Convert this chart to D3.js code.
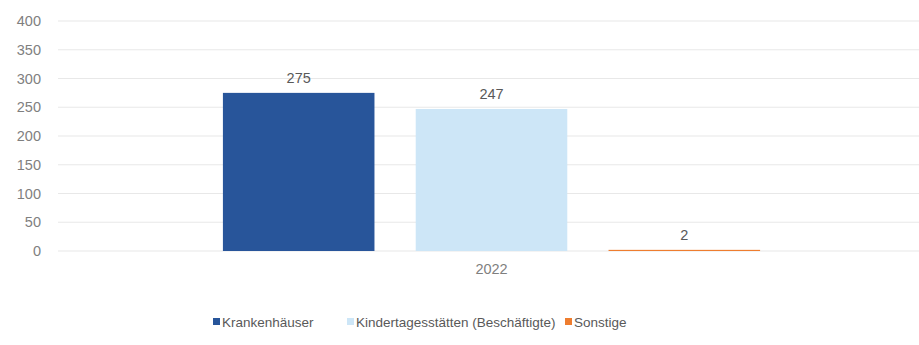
<!DOCTYPE html>
<html>
<head>
<meta charset="utf-8">
<script src="https://cdn.jsdelivr.net/npm/d3@7"></script>
<style>
  html, body { margin: 0; padding: 0; background: #fff; }
  svg text { font-family: "Liberation Sans", Arial, sans-serif; }
</style>
</head>
<body>
<svg id="chart" width="919" height="345"></svg>
<script>
// Data
const years = ["2022"];
const seriesNames = ["Krankenhäuser", "Kindertagesstätten (Beschäftigte)", "Sonstige"];
const seriesValues = [275, 247, 2];
const seriesColors = ["#28559a", "#cde6f7", "#ee7d2f"];
const yTicks = [0, 50, 100, 150, 200, 250, 300, 350, 400];

const svg = d3.select("#chart");
const margin = { left: 58, right: -6, top: 21, bottom: 94 };
const W = 919, H = 345;

const y = d3.scaleLinear().domain([0, 400]).range([H - margin.bottom, margin.top]);

const x0 = d3.scaleBand().domain(years)
  .range([margin.left, W - margin.right])
  .paddingInner(0).paddingOuter(0.307);

const x1 = d3.scaleBand().domain(seriesNames)
  .range([0, x0.bandwidth()])
  .paddingInner(0.214).paddingOuter(0);

// Gridlines
svg.append("g")
  .selectAll("line").data(yTicks).join("line")
  .attr("x1", margin.left).attr("x2", W)
  .attr("y1", d => y(d)).attr("y2", d => y(d))
  .attr("stroke", "#e8e8e8").attr("stroke-width", 1.2);

// Y axis labels
const yAxis = d3.axisLeft(y).tickValues(yTicks).tickSize(0).tickPadding(0);
const ya = svg.append("g").attr("transform", `translate(${margin.left - 17},0)`).call(yAxis);
ya.select(".domain").remove();
ya.selectAll("text")
  .attr("fill", "#7f7f7f").attr("font-size", 14.5)
  .style("font-family", "'Liberation Sans', Arial, sans-serif");

// Bars
const group = svg.append("g").selectAll("g").data(years).join("g")
  .attr("transform", d => `translate(${x0(d)},0)`);

const rows = seriesNames.map((n, i) => ({ name: n, value: seriesValues[i], color: seriesColors[i] }));

group.selectAll("rect").data(rows).join("rect")
  .attr("x", d => x1(d.name))
  .attr("width", x1.bandwidth())
  .attr("y", d => y(d.value))
  .attr("height", d => y(0) - y(d.value))
  .attr("fill", d => d.color);

// Value labels
group.selectAll("text.val").data(rows).join("text")
  .attr("class", "val")
  .attr("x", d => x1(d.name) + x1.bandwidth() / 2)
  .attr("y", d => y(d.value) - 10)
  .attr("text-anchor", "middle")
  .attr("fill", "#595959")
  .attr("font-size", 14.5)
  .text(d => d.value);

// X axis category label
const xAxis = d3.axisBottom(x0).tickSize(0).tickPadding(0);
const xa = svg.append("g").attr("transform", `translate(0,${y(0) + 13})`).call(xAxis);
xa.select(".domain").remove();
xa.selectAll("text")
  .attr("fill", "#7f7f7f").attr("font-size", 14.5)
  .style("font-family", "'Liberation Sans', Arial, sans-serif");

// Legend
const legendX = [213, 347, 565];
const legend = svg.append("g").selectAll("g").data(rows).join("g")
  .attr("transform", (d, i) => `translate(${legendX[i]},322)`);
legend.append("rect")
  .attr("x", 0).attr("y", -4).attr("width", 7).attr("height", 7)
  .attr("fill", d => d.color);
legend.append("text")
  .attr("x", 9).attr("y", 5)
  .attr("fill", "#595959").attr("font-size", 13.5)
  .text(d => d.name);
</script>
</body>
</html>
